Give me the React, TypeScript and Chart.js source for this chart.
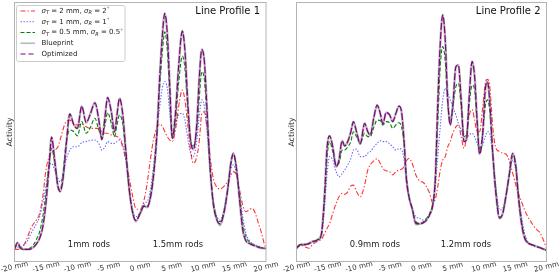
import React, { useEffect, useRef } from "react";
import { Chart, registerables } from "chart.js";

Chart.register(...registerables);

// ---------- axis / labels ----------
const X_TICKS = [-20, -15, -10, -5, 0, 5, 10, 15, 20];
const X_TICK_LABELS = X_TICKS.map((v) => `${v} mm`);
const Y_LABEL = "Activity";
const PANEL_TITLES = ["Line Profile 1", "Line Profile 2"];
const P1_NOTES = [
  { text: "1mm rods", x: -8.15, y: 6.4 },
  { text: "1.5mm rods", x: 6.0, y: 6.4 },
];
const P2_NOTES = [
  { text: "0.9mm rods", x: -7.45, y: 6.4 },
  { text: "1.2mm rods", x: 7.1, y: 6.4 },
];

// ---------- Line Profile 1 ----------
const P1_X = [-20, -19.5, -19, -18.5, -18, -17.5, -17, -16.5, -16, -15.5, -15,
  -14.5, -14.1, -13.6, -13.1, -12.75, -12.3, -11.8, -11.2, -10.6, -10,
  -9.3, -8.6, -8, -7.2, -6.6, -6.1, -5.6, -5.2, -4.6, -4.1,
  -3.7, -3.3, -2.8, -2.3, -1.8, -1.3, -0.7, 0, 0.6, 1.1,
  1.6, 2.1, 2.6, 3.1, 3.5, 3.9, 4.3, 4.7, 5.1, 5.6,
  6.1, 6.7, 7.1, 7.6, 8, 8.45, 9, 9.4, 9.8, 10.2,
  10.6, 11.1, 11.6, 12.1, 12.7, 13.3, 13.9, 14.4, 14.8, 15.3,
  15.8, 16.3, 16.8, 17.3, 17.8, 18.3, 18.8, 19.3, 19.7, 20];
const P1_RED = [4.7, 4.7, 5.1, 6.4, 9, 12.2, 14.5, 16, 18.6, 25, 35.3,
  40.5, 42.5, 43, 44.3, 46.9, 50.8, 54, 54.6, 53.3, 52.7,
  53, 52, 51.4, 51.4, 51.4, 50.2, 49.5, 49.5, 48.8, 48.5,
  48.2, 47.6, 44.3, 39.2, 32.8, 26.3, 20.5, 20.1, 23.7, 30.2,
  39.2, 46.9, 51.4, 53, 52.3, 50.2, 48.2, 46.9, 46.3, 50.8,
  59.8, 66.2, 62.4, 52, 43, 37.9, 40.5, 46.9, 57.2, 57.8,
  52, 40.5, 32.3, 29, 28, 29, 30.8, 33.4, 34.7, 33.4,
  27.6, 21.8, 19.2, 19.9, 20.5, 18.6, 14.7, 10.9, 7, 5.1];
const P1_BLUE = [5.1, 5.5, 5.7, 6.4, 7.7, 10.2, 12.4, 14.7, 17.3, 22.5, 28.9,
  36.6, 37.9, 35.3, 32, 30.8, 33.4, 39.2, 43, 44.3, 44.3,
  45.9, 46.3, 46.7, 46.9, 45.6, 43, 44.3, 46.3, 45.6, 45.6,
  46.3, 46.9, 45.6, 39.2, 28.9, 21.2, 17.3, 19.2, 22.5, 23.1,
  27.6, 36.6, 49.5, 59.8, 66.9, 69.4, 66.9, 57.2, 48.2, 52.7,
  56.6, 57.2, 54.6, 46.9, 41.8, 40.5, 46.9, 56.6, 62.4, 59.8,
  50.8, 35.3, 23.7, 18, 16, 19.9, 28.3, 35.3, 37.3, 34,
  26.3, 17.3, 10.9, 8.3, 7, 6.4, 6, 5.5, 5.1, 5.1];
const P1_GREEN = [4.9, 6.4, 5, 4.7, 4.8, 5.2, 6.4, 8.6, 11.5, 17.3, 26.3,
  37.9, 43.7, 37.9, 29.5, 27.6, 34, 45.6, 50.8, 50.2, 48.5,
  54, 49.5, 51.4, 55.3, 50.8, 48, 52.7, 57.5, 53.3, 48.2,
  52.7, 56.6, 53.3, 41.8, 28.9, 19.9, 16, 18.6, 21.8, 21.4,
  25, 34, 48.2, 67.5, 80.4, 88.7, 81.7, 63.7, 47.6, 54,
  68.8, 79.3, 74.6, 57.2, 46.9, 44.6, 51.4, 63.7, 73.3, 70.1,
  56.6, 36.6, 23.7, 17.3, 15.4, 19.2, 27.6, 37.3, 41.2, 36,
  25, 14.7, 9.6, 7.7, 6.8, 6.2, 5.7, 5.3, 5.1, 5];
const P1_BLUEPRINT = [5, 7.3, 5, 4.7, 4.7, 4.8, 5.5, 6.8, 9, 13.4, 22.5,
  36.6, 48, 39, 29, 27, 31.5, 44.3, 57, 53, 51.4,
  60, 53.6, 56.6, 61.3, 54.9, 47, 56, 63.3, 57.8, 50,
  56.6, 63, 57.2, 43, 28.9, 19.9, 15.5, 18.6, 21.4, 20.9,
  24.4, 32.8, 46.9, 71.4, 86.8, 95.8, 88, 67.5, 47.6, 57.2,
  75.2, 89, 81.7, 59.8, 46.9, 43.3, 53.3, 71.4, 81.9, 77.2,
  59.8, 36.6, 22.5, 16.7, 14, 18.6, 27.6, 37.9, 41.8, 36,
  23.7, 12.2, 8, 7, 6.4, 6, 5.5, 5.2, 5.1, 5];
const P1_OPTIMIZED = [5, 7.3, 5, 4.7, 4.7, 4.8, 5.5, 6.8, 9, 13.4, 22.5,
  36.6, 48, 39, 29, 27, 31.5, 44.3, 57, 53, 51.4,
  60, 53.6, 56.6, 61.3, 54.9, 47, 56, 63.3, 57.8, 50,
  56.6, 63, 57.2, 43, 28.9, 19.9, 15.8, 18.6, 21.4, 20.9,
  24.4, 32.8, 46.9, 71.4, 86.8, 95.8, 88, 67.5, 47.6, 57.2,
  75.2, 89, 81.7, 59.8, 46.9, 43.3, 53.3, 71.4, 81.9, 77.2,
  59.8, 36.6, 22.5, 16.7, 14.5, 18.6, 27.6, 37.9, 41.8, 36,
  23.7, 12.2, 8, 7, 6.4, 6, 5.5, 5.2, 5.1, 5];

// ---------- Line Profile 2 ----------
const P2_X = [-20, -19.5, -19, -18.5, -18, -17.5, -17, -16.5, -16, -15.5,
  -15.1, -14.7, -14.2, -13.65, -13.2, -12.7, -12.3, -11.8, -11.3, -10.9,
  -10.4, -9.8, -9.1, -8.6, -8.2, -7.6, -7.1, -6.6, -6.2, -5.65,
  -5.1, -4.6, -4.1, -3.6, -3.2, -2.8, -2.4, -2, -1.5, -0.9,
  -0.3, 0.3, 0.8, 1.3, 1.8, 2.2, 2.6, 3, 3.4, 3.8,
  4.2, 4.6, 5, 5.5, 5.9, 6.35, 6.8, 7.2, 7.6, 8.1,
  8.5, 8.9, 9.3, 9.8, 10.2, 10.55, 10.9, 11.4, 11.9, 12.5,
  13, 13.5, 14, 14.6, 15.1, 15.5, 16, 16.5, 17, 17.5,
  18, 18.5, 19, 19.5, 20];
const P2_RED = [5.1, 6.4, 6.1, 5.5, 5.1, 6.4, 7.3, 8, 8.6, 10.9,
  12.8, 14.7, 18.6, 22.5, 25, 26.3, 25.9, 26.9, 29.2, 29.5,
  27, 25, 29.5, 35.3, 37.3, 38.9, 39.7, 37.9, 36, 35,
  34.7, 33.4, 34.7, 35.3, 35.6, 36.6, 38.9, 39.8, 37.9, 33.4,
  31.1, 30.5, 28.9, 26.3, 22.7, 24, 28.9, 35.3, 39.2, 40.5,
  44.3, 46.3, 49.5, 52, 52.7, 48.2, 43.7, 48.2, 55.9, 58.7,
  54.6, 50.1, 50.1, 59.8, 68.8, 70.3, 68.1, 52, 43.7, 42.5,
  41.8, 41.5, 39.2, 34, 29.5, 26.3, 23.1, 19.9, 17.3, 15.4,
  13.5, 12.2, 10.9, 8.3, 5.1];
const P2_BLUE = [5.1, 6.1, 6.4, 6.4, 6.8, 7.4, 7.8, 8.3, 10.2, 21.2,
  34, 40.5, 39.2, 34.7, 32.7, 34, 35.3, 37.3, 39.8, 43,
  43.4, 40.5, 40.5, 41.8, 42.4, 44.3, 45.6, 46.6, 46.3, 46.3,
  45.4, 44.3, 43, 43.6, 43.3, 39.2, 30.2, 24.4, 20.5, 17.3,
  16.7, 16, 16.6, 18, 21.2, 28.9, 40.5, 52, 62.4, 66.9,
  64.9, 62.4, 59.8, 56.6, 53.3, 50.8, 48.2, 47.6, 48.8, 49.5,
  48.2, 45.6, 43.6, 44.9, 48.2, 50.1, 49.5, 40.5, 28.9, 19.9,
  20.5, 25.6, 32.8, 39.2, 35.3, 26.3, 17.3, 10.9, 7.7, 6.4,
  5.9, 5.7, 5.3, 4.8, 4.4];
const P2_GREEN = [5.1, 6.1, 6.4, 6.4, 6.8, 7.4, 7.8, 8.3, 10.2, 23.7,
  40.5, 46.3, 42.4, 37.3, 37.9, 43, 43, 44.3, 46.3, 50.1,
  48.2, 45.6, 49.5, 48.2, 48.2, 52, 54.6, 54.4, 52.7, 54,
  53.6, 51.4, 52.7, 53.6, 52, 45.6, 32.8, 25, 20.5, 15.4,
  14.7, 15.4, 16.6, 18.6, 22.5, 31.5, 53.1, 75.2, 83, 77.2,
  61, 54.6, 59.8, 67.5, 68.8, 59.8, 48.2, 48.8, 59.8, 68.1,
  66.2, 53.3, 43, 49.5, 59.8, 62.4, 58.5, 41.8, 27.6, 17.3,
  18.6, 25, 32.8, 40.5, 36.6, 26.3, 16, 9.6, 7.3, 6.6,
  6.2, 5.7, 5.3, 4.8, 4.4];
const P2_BLUEPRINT = [5.1, 6.4, 6.6, 6.6, 7, 7.7, 8, 8.6, 10.9, 26.3,
  44.3, 48.5, 44.3, 36.6, 39.2, 46.6, 44.6, 46.3, 50.1, 54,
  50.1, 45.4, 53.3, 50.1, 48.8, 55.9, 60.4, 57.2, 53.1, 57.5,
  56.6, 54, 57.2, 60, 57.9, 46.9, 31.5, 25, 20.5, 14.4,
  14.5, 15, 16, 18, 21.8, 31.5, 61, 84.2, 95.2, 85.5,
  62.4, 52.7, 59.8, 75.2, 75.9, 62.4, 46.3, 46.9, 62.4, 77.2,
  71.4, 54.6, 41.5, 49.5, 66.2, 69.4, 62.4, 41.8, 26.3, 16.7,
  18.6, 25, 32.8, 41.8, 36.6, 25, 14.7, 9, 7.3, 6.6,
  6.2, 5.7, 5.3, 4.8, 4.4];
const P2_OPTIMIZED = [5.1, 6.4, 6.6, 6.6, 7, 7.7, 8, 8.6, 10.9, 26.3,
  44.3, 48.5, 44.3, 36.6, 39.2, 46.6, 44.6, 46.3, 50.1, 54,
  50.1, 45.4, 53.3, 50.1, 48.8, 55.9, 60.4, 57.2, 53.1, 57.5,
  56.6, 54, 57.2, 60, 57.9, 46.9, 31.5, 25, 20.5, 14.7,
  14.5, 15, 16, 18, 21.8, 31.5, 61, 84.2, 95.2, 85.5,
  62.4, 52.7, 59.8, 75.2, 75.9, 62.4, 46.3, 46.9, 62.4, 77.2,
  71.4, 54.6, 41.5, 49.5, 66.2, 69.4, 62.4, 41.8, 26.3, 16.7,
  18.6, 25, 32.8, 41.8, 36.6, 25, 14.7, 9, 7.3, 6.6,
  6.2, 5.7, 5.3, 4.8, 4.4];

// ---------- series styles / legend ----------
type Seg = { t: string; it?: boolean; sub?: boolean; sup?: boolean };
const SERIES = [
  { key: "red", color: "rgba(255,0,0,0.8)", width: 1.1, dash: [5, 2, 1.4, 2], order: 4 },
  { key: "blue", color: "rgba(0,0,255,0.6)", width: 1.1, dash: [1.4, 1.6], order: 3 },
  { key: "green", color: "#008000", width: 1.1, dash: [4, 2], order: 2 },
  { key: "blueprint", color: "rgba(128,128,128,0.55)", width: 2.4, dash: [] as number[], order: 1 },
  { key: "optimized", color: "#800080", width: 1.2, dash: [7, 2], order: 0 },
];
const LEGEND_TEXT: Seg[][] = [
  [{ t: "σ", it: true }, { t: "T", it: true, sub: true }, { t: " = 2 mm, " }, { t: "σ", it: true }, { t: "R", it: true, sub: true }, { t: " = 2" }, { t: "∘", sup: true }],
  [{ t: "σ", it: true }, { t: "T", it: true, sub: true }, { t: " = 1 mm, " }, { t: "σ", it: true }, { t: "R", it: true, sub: true }, { t: " = 1" }, { t: "∘", sup: true }],
  [{ t: "σ", it: true }, { t: "T", it: true, sub: true }, { t: " = 0.5 mm, " }, { t: "σ", it: true }, { t: "R", it: true, sub: true }, { t: " = 0.5" }, { t: "∘", sup: true }],
  [{ t: "Blueprint" }],
  [{ t: "Optimized" }],
];

const FONT = "'DejaVu Sans', 'Noto Sans', sans-serif";

function makePlugin(title: string, notes: { text: string; x: number; y: number }[], showLegend: boolean) {
  return {
    id: "decor",
    afterDraw(chart: any) {
      const ctx = chart.ctx as CanvasRenderingContext2D;
      const { left, right, top, bottom } = chart.chartArea;
      const xs = chart.scales.x;
      const ys = chart.scales.y;
      ctx.save();
      // frame
      ctx.strokeStyle = "#b3b3b3";
      ctx.lineWidth = 1;
      ctx.setLineDash([]);
      ctx.strokeRect(left, top, right - left, bottom - top);

      // x tick labels (rotated, centred on tick)
      ctx.fillStyle = "#333";
      ctx.font = `7.2px ${FONT}`;
      ctx.textAlign = "center";
      ctx.textBaseline = "middle";
      X_TICKS.forEach((v, i) => {
        const px = xs.getPixelForValue(v);
        ctx.save();
        ctx.translate(px, bottom + 5.5);
        ctx.rotate((-13 * Math.PI) / 180);
        ctx.fillText(X_TICK_LABELS[i], 0, 0);
        ctx.restore();
      });

      // y label
      ctx.save();
      ctx.font = `7.8px ${FONT}`;
      ctx.fillStyle = "#222";
      ctx.translate(left - 5, (top + bottom) / 2);
      ctx.rotate(-Math.PI / 2);
      ctx.textAlign = "center";
      ctx.textBaseline = "middle";
      ctx.fillText(Y_LABEL, 0, 0);
      ctx.restore();

      // panel title
      ctx.font = `10px ${FONT}`;
      ctx.fillStyle = "#111";
      ctx.textAlign = "right";
      ctx.textBaseline = "alphabetic";
      ctx.fillText(title, right - 6, top + 11.5);

      // rod annotations
      ctx.font = `8.4px ${FONT}`;
      ctx.fillStyle = "#222";
      ctx.textAlign = "center";
      ctx.textBaseline = "middle";
      notes.forEach((n) => ctx.fillText(n.text, xs.getPixelForValue(n.x), ys.getPixelForValue(n.y)));

      if (showLegend) {
        const bx = left + 2, by = top + 3, bw = 108.5, bh = 56;
        ctx.fillStyle = "rgba(255,255,255,0.8)";
        ctx.strokeStyle = "#cccccc";
        ctx.lineWidth = 1;
        ctx.beginPath();
        (ctx as any).roundRect ? (ctx as any).roundRect(bx, by, bw, bh, 2) : ctx.rect(bx, by, bw, bh);
        ctx.fill();
        ctx.stroke();
        SERIES.forEach((s, i) => {
          const cy = by + 5.5 + i * 10.75;
          ctx.save();
          ctx.strokeStyle = s.color;
          ctx.lineWidth = s.key === "blueprint" ? 1.6 : 1;
          ctx.setLineDash(s.key === "optimized" ? [5, 3] : s.dash);
          ctx.beginPath();
          ctx.moveTo(bx + 4, cy);
          ctx.lineTo(bx + 18.5, cy);
          ctx.stroke();
          ctx.restore();
          let tx = bx + 25;
          ctx.fillStyle = "#222";
          ctx.textAlign = "left";
          ctx.textBaseline = "middle";
          LEGEND_TEXT[i].forEach((seg) => {
            const size = seg.sub || seg.sup ? 5 : 7;
            ctx.font = `${seg.it ? "italic " : ""}${size}px ${FONT}`;
            const dy = seg.sub ? 1.8 : seg.sup ? -2.8 : 0;
            ctx.fillText(seg.t, tx, cy + dy);
            tx += ctx.measureText(seg.t).width;
          });
        });
      }
      ctx.restore();
    },
  };
}

function buildDatasets(xs: number[], arrays: number[][]) {
  const labels = ["σT = 2 mm, σR = 2°", "σT = 1 mm, σR = 1°", "σT = 0.5 mm, σR = 0.5°", "Blueprint", "Optimized"];
  return SERIES.map((s, i) => ({
    label: labels[i],
    data: xs.map((x, j) => ({ x, y: arrays[i][j] })),
    borderColor: s.color,
    borderWidth: s.width,
    borderDash: s.dash,
    pointRadius: 0,
    fill: false,
    cubicInterpolationMode: "monotone" as const,
    order: s.order,
  }));
}

function makeConfig(datasets: any[], padding: any, plugin: any) {
  return {
    type: "line" as const,
    data: { datasets },
    options: {
      responsive: false,
      animation: false as const,
      devicePixelRatio: 1,
      layout: { padding },
      scales: {
        x: { type: "linear" as const, min: -20, max: 20, display: false },
        y: { type: "linear" as const, min: 0, max: 100, display: false },
      },
      plugins: { legend: { display: false }, tooltip: { enabled: false } },
    },
    plugins: [plugin],
  };
}

export default function App() {
  const ref1 = useRef<HTMLCanvasElement>(null);
  const ref2 = useRef<HTMLCanvasElement>(null);

  useEffect(() => {
    const c1 = new Chart(
      ref1.current!,
      makeConfig(
        buildDatasets(P1_X, [P1_RED, P1_BLUE, P1_GREEN, P1_BLUEPRINT, P1_OPTIMIZED]),
        { left: 14.5, right: 14, top: 2.5, bottom: 17.5 },
        makePlugin(PANEL_TITLES[0], P1_NOTES, true)
      ) as any
    );
    const c2 = new Chart(
      ref2.current!,
      makeConfig(
        buildDatasets(P2_X, [P2_RED, P2_BLUE, P2_GREEN, P2_BLUEPRINT, P2_OPTIMIZED]),
        { left: 16.5, right: 13.5, top: 2.5, bottom: 17.5 },
        makePlugin(PANEL_TITLES[1], P2_NOTES, false)
      ) as any
    );
    return () => {
      c1.destroy();
      c2.destroy();
    };
  }, []);

  return (
    <div style={{ position: "fixed", left: 0, top: 0, width: 560, height: 279, background: "#fff" }}>
      <canvas ref={ref1} width={280} height={279} style={{ position: "absolute", left: 0, top: 0, width: 280, height: 279 }} />
      <canvas ref={ref2} width={280} height={279} style={{ position: "absolute", left: 280, top: 0, width: 280, height: 279 }} />
    </div>
  );
}
